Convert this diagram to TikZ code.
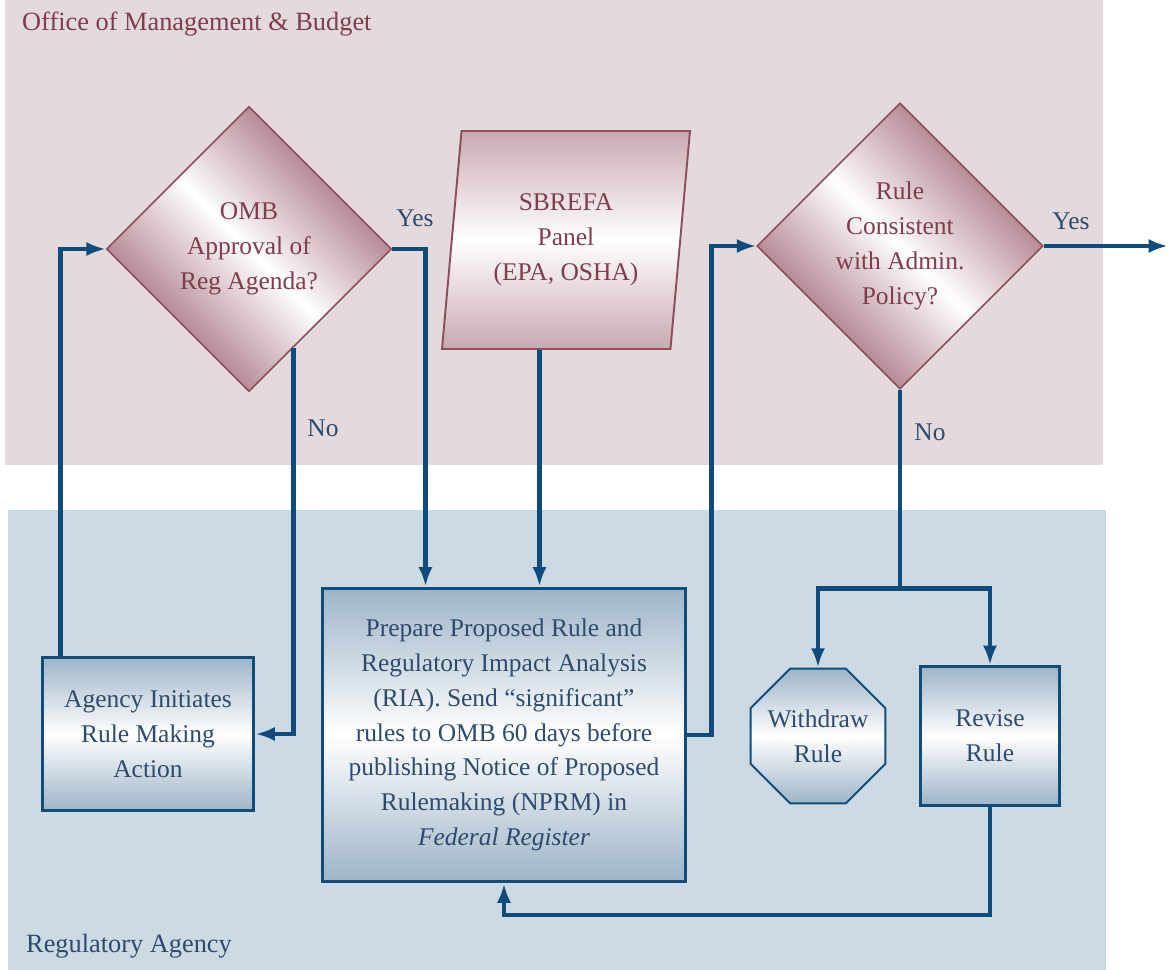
\documentclass[tikz,border=0pt]{standalone}
\usepackage{fontspec}
\setmainfont{Liberation Serif}
\usetikzlibrary{arrows.meta,shapes.geometric}

\definecolor{ombband}{HTML}{E4D9DC}
\definecolor{agencyband}{HTML}{CCDAE3}
\definecolor{ombtext}{HTML}{7D3E4E}
\definecolor{ombline}{HTML}{8B4F5C}
\definecolor{ombshade}{HTML}{9A5C6E}
\definecolor{ombface}{HTML}{C9A9B2}
\definecolor{agtext}{HTML}{2E4B6C}
\definecolor{agline}{HTML}{124C7A}
\definecolor{agshade}{HTML}{9DB4C8}
\definecolor{flowblue}{HTML}{0F4C7B}

\begin{document}
\begin{tikzpicture}[x=0.02cm,y=-0.02cm,
    txt/.style={font=\fontsize{14.5}{19.8}\selectfont, align=center},
    decision/.style={txt, diamond, aspect=1, inner sep=0pt, minimum size=5.7cm,
        draw=ombline, line width=0.9pt, text=ombtext,
        top color=ombshade, bottom color=ombshade, middle color=white, shading angle=-45},
    panel/.style={txt, trapezium, trapezium left angle=78, trapezium right angle=102,
        trapezium stretches body, inner sep=0pt, minimum width=4.96cm, minimum height=4.36cm,
        draw=ombline, line width=1.1pt, text=ombtext,
        top color=ombface, bottom color=ombface, middle color=white},
    action/.style={txt, rectangle, inner sep=0pt, draw=agline, line width=1.7pt, text=agtext,
        top color=agshade, bottom color=agshade, middle color=white},
    stopsign/.style={txt, regular polygon, regular polygon sides=8, inner sep=-6pt,
        minimum size=2.92cm, draw=agline, line width=1.1pt, text=agtext,
        top color=agshade, bottom color=agshade, middle color=white},
    lbl/.style={font=\fontsize{14.5}{17}\selectfont, text=agtext},
    flow/.style={draw=flowblue, line width=2.8pt, -{Latex[length=11pt,width=8pt]}}]

    \useasboundingbox (0,0) rectangle (1171,970);
    \fill[ombband] (5,0) rectangle (1103,465);
    \fill[agencyband] (8,510) rectangle (1106,970);

    \node[anchor=west, font=\fontsize{15}{18}\selectfont, text=ombtext] (ombtitle) at (16,24) {Office of Management \& Budget};
    \node[anchor=west, font=\fontsize{15}{18}\selectfont, text=agtext] (agtitle) at (20,946) {Regulatory Agency};

    % OMB side
    \node[decision] (omb) at (249,249) {OMB\\Approval of\\Reg Agenda?};
    \node[panel] (sbrefa) at (566,240) {SBREFA\\Panel\\(EPA, OSHA)};
    \node[decision, minimum size=5.72cm] (rule) at (900,246) {Rule\\Consistent\\with Admin.\\Policy?};

    % agency side
    \node[action, minimum width=4.24cm, minimum height=3.08cm] (agency) at (148,734) {Agency Initiates\\Rule Making\\Action};
    \node[action, minimum width=7.28cm, minimum height=5.88cm] (prep) at (504,735)
        {Prepare Proposed Rule and\\Regulatory Impact Analysis\\(RIA). Send “significant”\\rules to OMB 60 days before\\publishing Notice of Proposed\\Rulemaking (NPRM) in\\\textit{Federal Register}};
    \node[stopsign] (withdraw) at (818,736) {Withdraw\\Rule};
    \node[action, minimum width=2.78cm, minimum height=2.78cm] (revise) at (990,736) {Revise\\Rule};

    \node[lbl] (yesomb) at (415,218) {Yes};
    \node[lbl] (noomb) at (323,428) {No};
    \node[lbl] (yesrule) at (1071,221) {Yes};
    \node[lbl] (norule) at (930,432) {No};

    \coordinate (yesin) at ([xshift=2.1cm]prep.north west);
    \coordinate (panelin) at ([xshift=4.38cm]prep.north west);
    \coordinate (exit) at (1168,246);
    \path (rule.south) ++(0,199) coordinate (split);

    \draw[flow] ([xshift=0.4cm]agency.north west) |- (omb.west);
    \draw[flow] (omb.-66) |- (agency.east);
    \draw[flow] (omb.east) -| (yesin);
    \draw[flow] (panelin |- sbrefa.south) -- (panelin);
    \draw[flow] (prep.east) -- ++(24,0) |- (rule.west);
    \draw[flow] (rule.east) -- (exit);
    \draw[flow] (rule.south) -- (split) -| (withdraw.north);
    \draw[flow] (rule.south) -- (split) -| (revise.north);
    \draw[flow] (revise.south) -- ++(0,108) -| (prep.south);
\end{tikzpicture}
\end{document}
